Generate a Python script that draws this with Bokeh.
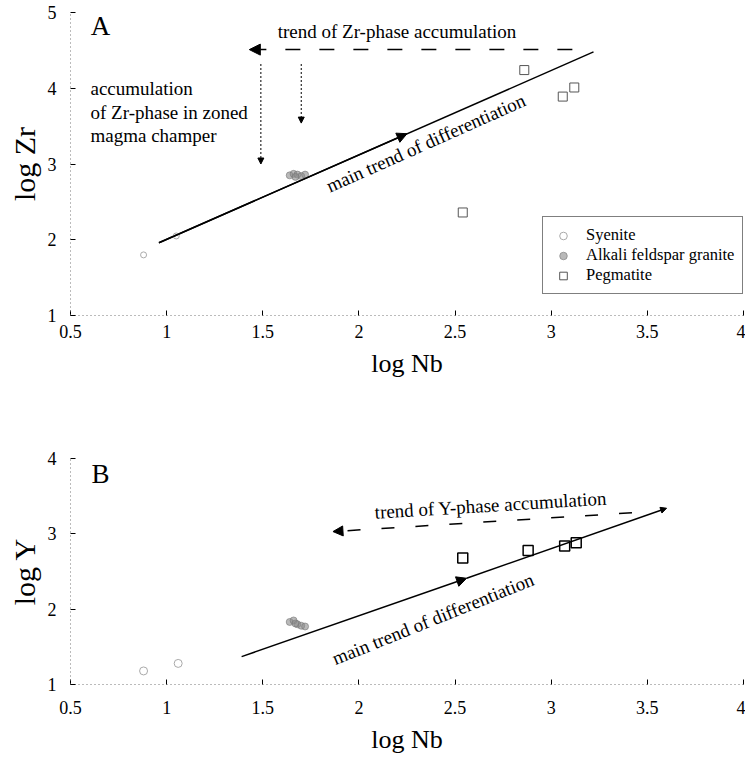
from bokeh.plotting import figure
from bokeh.layouts import column
from bokeh.models import (Label, Arrow, NormalHead, FixedTicker, Legend, LegendItem, Range1d,
                          CustomJSTickFormatter)
from bokeh.embed import file_html
from bokeh.resources import INLINE

FONT = "Liberation Serif"
FONT_Q = "'Liberation Serif', serif"

# ---- axes ----
x_ticks = [0.5, 1, 1.5, 2, 2.5, 3, 3.5, 4]
x_tick_labels = ["0.5", "1", "1.5", "2", "2.5", "3", "3.5", "4"]
yA_ticks = [1, 2, 3, 4, 5]
yA_tick_labels = ["1", "2", "3", "4", "5"]
yB_ticks = [1, 2, 3, 4]
yB_tick_labels = ["1", "2", "3", "4"]
x_title = "log Nb"
yA_title = "log Zr"
yB_title = "log Y"

# ---- data: log Nb vs log Zr (A) and log Y (B) ----
syen_nb = [0.88, 1.05]
syen_zr = [1.80, 2.05]
syen_nb_b = [0.88, 1.06]
syen_y = [1.18, 1.28]

afg_nb = [1.64, 1.66, 1.68, 1.70, 1.72, 1.67]
afg_zr = [2.85, 2.87, 2.86, 2.84, 2.86, 2.83]
afg_nb_b = [1.64, 1.66, 1.68, 1.70, 1.72, 1.67]
afg_y = [1.83, 1.85, 1.80, 1.78, 1.77, 1.81]

peg_nb = [2.54, 2.86, 3.06, 3.12]
peg_zr = [2.36, 4.24, 3.89, 4.01]
peg_nb_b = [2.54, 2.88, 3.07, 3.13]
peg_y = [2.68, 2.78, 2.84, 2.88]

# ---- trend lines / arrows (data coordinates) ----
trendA_x = [0.96, 3.22]
trendA_y = [1.96, 4.48]
trendA_mid = [2.25, 3.40]
accA_x = [3.11, 1.43]
accA_y = [4.51, 4.51]
dropA_x = [1.49, 1.70]
dropA_top = [4.32, 4.32]
dropA_bot = [3.00, 3.54]

trendB_x = [1.39, 3.60]
trendB_y = [1.37, 3.34]
trendB_mid = [2.56, 2.41]
accB_x = [3.42, 1.865]
accB_y = [3.28, 3.03]

FMT_CODE = "const i = tvals.indexOf(tick); return i >= 0 ? tlabels[i] : String(tick);"


def make_fig(height, top, bottom, yticks, ylabels, yrange, ytitle):
    p = figure(width=745, height=height, output_backend="svg", toolbar_location=None,
               x_range=Range1d(0.5, 4), y_range=Range1d(*yrange),
               min_border_left=70, min_border_right=2, min_border_top=top,
               min_border_bottom=bottom)
    p.outline_line_color = None
    p.grid.visible = False
    p.background_fill_color = "white"
    xa = p.xaxis[0]
    ya = p.yaxis[0]
    xa.ticker = FixedTicker(ticks=x_ticks)
    xa.formatter = CustomJSTickFormatter(args=dict(tvals=x_ticks, tlabels=x_tick_labels), code=FMT_CODE)
    ya.ticker = FixedTicker(ticks=yticks)
    ya.formatter = CustomJSTickFormatter(args=dict(tvals=yticks, tlabels=ylabels), code=FMT_CODE)
    for ax in (xa, ya):
        ax.axis_line_dash = "1 3"
        ax.axis_line_color = "#777777"
        ax.major_tick_in = 5
        ax.major_tick_out = 0
        ax.major_tick_line_color = "black"
        ax.minor_tick_line_color = None
        ax.major_label_text_font = FONT_Q
        ax.major_label_text_font_size = "18px"
        ax.major_label_text_font_style = "normal"
        ax.major_label_text_color = "black"
        ax.axis_label_text_font = FONT
        ax.axis_label_text_font_style = "normal"
        ax.axis_label_text_color = "black"
    xa.axis_label = x_title
    xa.axis_label_text_font_size = "26px"
    xa.axis_label_standoff = 8
    ya.axis_label = ytitle
    ya.axis_label_text_font_size = "30px"
    ya.axis_label_standoff = 4
    ya.major_label_standoff = 14
    return p


def lab(p, x, y, text, size="19px", angle=0, align="center", baseline="middle"):
    p.add_layout(Label(x=x, y=y, text=text, text_font=FONT, text_font_size=size,
                       angle=angle, angle_units="deg", text_align=align,
                       text_baseline=baseline, text_color="black"))


# ================= Panel A =================
pA = make_fig(388, 12, 73, yA_ticks, yA_tick_labels, (1, 5), yA_title)
pA.xaxis[0].major_label_standoff = 9

pA.line(trendA_x, trendA_y, line_color="black", line_width=1.5)
pA.add_layout(Arrow(x_start=trendA_x[0], y_start=trendA_y[0], x_end=trendA_mid[0], y_end=trendA_mid[1],
                    line_color="black", line_width=1.5,
                    end=NormalHead(size=10, fill_color="black", line_color="black")))
pA.add_layout(Arrow(x_start=accA_x[0], y_start=accA_y[0], x_end=accA_x[1], y_end=accA_y[1],
                    line_color="black", line_width=1.5, line_dash="15 19",
                    end=NormalHead(size=11, fill_color="black", line_color="black")))
for i in range(2):
    pA.add_layout(Arrow(x_start=dropA_x[i], y_start=dropA_top[i], x_end=dropA_x[i], y_end=dropA_bot[i],
                        line_color="black", line_width=1, line_dash="2 2",
                        end=NormalHead(size=6, fill_color="black", line_color="black")))

rs = pA.scatter(syen_nb, syen_zr, marker="circle", size=6, fill_color=None, line_color="#aaaaaa")
ra = pA.scatter(afg_nb, afg_zr, marker="circle", size=7, fill_color="#8a8a8a", fill_alpha=0.6,
                line_color="#777777", line_alpha=0.6)
rp = pA.scatter(peg_nb, peg_zr, marker="square", size=9, fill_color=None, line_color="#555555",
                line_width=1)

legend = Legend(items=[LegendItem(label="Syenite", renderers=[rs]),
                       LegendItem(label="Alkali feldspar granite", renderers=[ra]),
                       LegendItem(label="Pegmatite", renderers=[rp])],
                location=(472, 21), label_text_font=FONT_Q, label_text_font_size="16.5px",
                label_text_font_style="normal", label_text_color="black",
                glyph_width=24, glyph_height=19, label_height=19, label_standoff=11,
                padding=8, spacing=0, margin=0, border_line_color="black",
                border_line_width=1, background_fill_color="white", background_fill_alpha=1)
pA.add_layout(legend)

lab(pA, 0.656, 4.82, "A", size="27px")
lab(pA, 2.198, 4.75, "trend of Zr-phase accumulation")
lab(pA, 0.604, 4.00, "accumulation", align="left")
lab(pA, 0.604, 3.68, "of Zr-phase in zoned", align="left")
lab(pA, 0.604, 3.37, "magma champer", align="left")
lab(pA, 2.348, 3.276, "main trend of differentiation", angle=24)

# ================= Panel B =================
pB = make_fig(368, 70, 70, yB_ticks, yB_tick_labels, (1, 4), yB_title)
pB.xaxis[0].major_label_standoff = 16

pB.add_layout(Arrow(x_start=trendB_x[0], y_start=trendB_y[0], x_end=trendB_mid[0], y_end=trendB_mid[1],
                    line_color="black", line_width=1.5,
                    end=NormalHead(size=10, fill_color="black", line_color="black")))
pB.add_layout(Arrow(x_start=trendB_mid[0], y_start=trendB_mid[1], x_end=trendB_x[1], y_end=trendB_y[1],
                    line_color="black", line_width=1.5,
                    end=NormalHead(size=6, fill_color="black", line_color="black")))
pB.add_layout(Arrow(x_start=accB_x[0], y_start=accB_y[0], x_end=accB_x[1], y_end=accB_y[1],
                    line_color="black", line_width=1.5, line_dash="13 21",
                    end=NormalHead(size=10, fill_color="black", line_color="black")))

pB.scatter(syen_nb_b, syen_y, marker="circle", size=8, fill_color=None, line_color="#aaaaaa")
pB.scatter(afg_nb_b, afg_y, marker="circle", size=7, fill_color="#8a8a8a", fill_alpha=0.6,
           line_color="#777777", line_alpha=0.6)
pB.scatter(peg_nb_b, peg_y, marker="square", size=10, fill_color=None, line_color="black",
           line_width=1.5)

lab(pB, 0.656, 3.80, "B", size="27px")
lab(pB, 2.686, 3.38, "trend of Y-phase accumulation", angle=3.5)
lab(pB, 2.385, 1.87, "main trend of differentiation", angle=22)

layout = column(pA, pB, spacing=0)
open("out.html", "w").write(file_html(layout, INLINE))
